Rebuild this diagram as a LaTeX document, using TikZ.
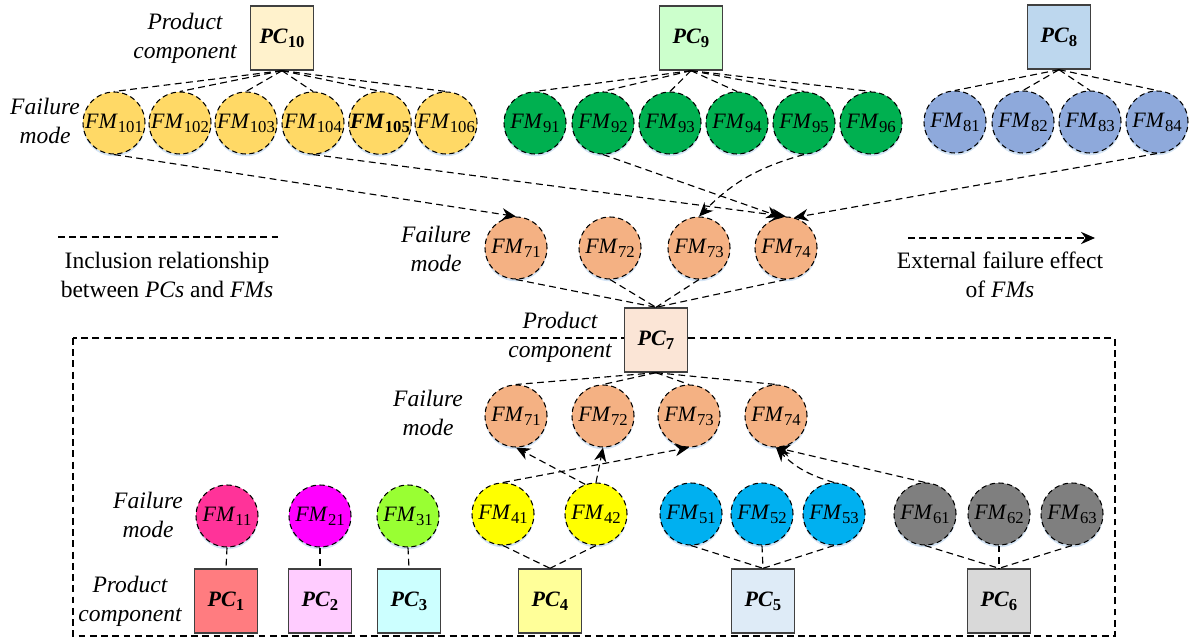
\documentclass[tikz,border=0pt]{standalone}
\usepackage{fontspec}
\setmainfont{Liberation Serif}
\usetikzlibrary{arrows.meta,shadows}

\definecolor{pcten}{HTML}{FFF2CC}
\definecolor{pcnine}{HTML}{CCFFCC}
\definecolor{pceight}{HTML}{BDD7EE}
\definecolor{pcseven}{HTML}{FBE5D6}
\definecolor{pcone}{HTML}{FF7C80}
\definecolor{pctwo}{HTML}{FFCCFF}
\definecolor{pcthree}{HTML}{CCFFFF}
\definecolor{pcfour}{HTML}{FFFF99}
\definecolor{pcfive}{HTML}{DEEBF7}
\definecolor{pcsix}{HTML}{D9D9D9}
\definecolor{fmten}{HTML}{FFD966}
\definecolor{fmnine}{HTML}{00B050}
\definecolor{fmeight}{HTML}{8EA9DB}
\definecolor{fmseven}{HTML}{F4B183}
\definecolor{fmone}{HTML}{FF3399}
\definecolor{fmtwo}{HTML}{FF00FF}
\definecolor{fmthree}{HTML}{99FF33}
\definecolor{fmfour}{HTML}{FFFF00}
\definecolor{fmfive}{HTML}{00B0F0}
\definecolor{fmsix}{HTML}{7F7F7F}
\definecolor{glow}{HTML}{C9DDF2}

\newcommand{\fmtxt}[1]{\textit{FM}\raisebox{-0.4ex}{\fontsize{9.5}{9.5}\selectfont #1}}
\newcommand{\fmbold}[1]{\textbf{\textit{FM}}\raisebox{-0.4ex}{\fontsize{9.5}{9.5}\selectfont\bfseries #1}}
\newcommand{\pctxt}[1]{\textbf{\textit{PC}}\raisebox{-0.4ex}{\fontsize{9.5}{9.5}\selectfont\bfseries #1}}

\begin{document}
\begin{tikzpicture}[x=0.02cm, y=-0.02cm,
                    align=center,
                    every node/.style={font=\fontsize{13.4}{16.5}\selectfont},
                    incl/.style={line width=0.65pt, dash pattern=on 3.9pt off 2.5pt},
                    effect/.style={incl, -{Stealth[length=8pt, width=7pt]}},
                    fmode/.style={circle, minimum size=1.24cm, inner sep=0pt, draw=black,
                                  line width=0.6pt, dash pattern=on 3pt off 2pt,
                                  font=\fontsize{12.5}{14}\selectfont,
                                  drop shadow={shadow xshift=0pt, shadow yshift=-1.3pt, fill=glow, opacity=0.8}},
                    pcbox/.style={rectangle, minimum width=1.26cm, minimum height=1.28cm, inner sep=0pt,
                                  draw=black!75, line width=0.8pt, font=\fontsize{12.5}{14}\selectfont},
                    lbl/.style={font=\fontsize{13.4}{16.5}\selectfont\itshape}]
      \useasboundingbox (0,0) rectangle (1194,639);
      \draw[incl] (73,338) rectangle (1115,636);
      % top product components
      \node[pcbox, fill=pcten] (pc10) at (282,38) {\pctxt{10}};
      \node[pcbox, fill=pcnine] (pc9) at (691,38) {\pctxt{9}};
      \node[pcbox, fill=pceight] (pc8) at (1059,37) {\pctxt{8}};
      \node[lbl] (product_component_top) at (185,38) {Product\\component};
      \node[lbl] (failure_mode_top) at (45,121) {Failure\\mode};
      \node[fmode, fill=fmten] (fm101) at (114,123) {\fmtxt{101}};
      \node[fmode, fill=fmten] (fm102) at (180,123) {\fmtxt{102}};
      \node[fmode, fill=fmten] (fm103) at (246,123) {\fmtxt{103}};
      \node[fmode, fill=fmten] (fm104) at (313,123) {\fmtxt{104}};
      \node[fmode, fill=fmten] (fm105) at (380,123) {\fmbold{105}};
      \node[fmode, fill=fmten] (fm106) at (446,123) {\fmtxt{106}};
      \node[fmode, fill=fmnine] (fm91) at (535,123) {\fmtxt{91}};
      \node[fmode, fill=fmnine] (fm92) at (603,123) {\fmtxt{92}};
      \node[fmode, fill=fmnine] (fm93) at (670,123) {\fmtxt{93}};
      \node[fmode, fill=fmnine] (fm94) at (737,123) {\fmtxt{94}};
      \node[fmode, fill=fmnine] (fm95) at (804,123) {\fmtxt{95}};
      \node[fmode, fill=fmnine] (fm96) at (871,123) {\fmtxt{96}};
      \node[fmode, fill=fmeight] (fm81) at (955,122) {\fmtxt{81}};
      \node[fmode, fill=fmeight] (fm82) at (1023,122) {\fmtxt{82}};
      \node[fmode, fill=fmeight] (fm83) at (1090,122) {\fmtxt{83}};
      \node[fmode, fill=fmeight] (fm84) at (1157,122) {\fmtxt{84}};
      % PC7 and its failure modes
      \node[lbl] (failure_mode_mid) at (436,249) {Failure\\mode};
      \node[fmode, fill=fmseven] (fm71_top) at (516,248) {\fmtxt{71}};
      \node[fmode, fill=fmseven] (fm72_top) at (610,248) {\fmtxt{72}};
      \node[fmode, fill=fmseven] (fm73_top) at (699,248) {\fmtxt{73}};
      \node[fmode, fill=fmseven] (fm74_top) at (786,248) {\fmtxt{74}};
      \node[pcbox, fill=pcseven] (pc7) at (656,340) {\pctxt{7}};
      \node[lbl] (product_component_mid) at (560,337) {Product\\component};
      \node[lbl] (failure_mode_in) at (428,413) {Failure\\mode};
      \node[fmode, fill=fmseven] (fm71_in) at (516,416) {\fmtxt{71}};
      \node[fmode, fill=fmseven] (fm72_in) at (603,416) {\fmtxt{72}};
      \node[fmode, fill=fmseven] (fm73_in) at (689,416) {\fmtxt{73}};
      \node[fmode, fill=fmseven] (fm74_in) at (776,416) {\fmtxt{74}};
      % bottom row
      \node[lbl] (failure_mode_bottom) at (148,515) {Failure\\mode};
      \node[lbl] (product_component_bottom) at (130,601) {Product\\component};
      \node[fmode, fill=fmone] (fm11) at (227,516) {\fmtxt{11}};
      \node[fmode, fill=fmtwo] (fm21) at (320,516) {\fmtxt{21}};
      \node[fmode, fill=fmthree] (fm31) at (408,516) {\fmtxt{31}};
      \node[fmode, fill=fmfour] (fm41) at (503,514) {\fmtxt{41}};
      \node[fmode, fill=fmfour] (fm42) at (596,514) {\fmtxt{42}};
      \node[fmode, fill=fmfive] (fm51) at (691,514) {\fmtxt{51}};
      \node[fmode, fill=fmfive] (fm52) at (762,514) {\fmtxt{52}};
      \node[fmode, fill=fmfive] (fm53) at (834,514) {\fmtxt{53}};
      \node[fmode, fill=fmsix] (fm61) at (925,514) {\fmtxt{61}};
      \node[fmode, fill=fmsix] (fm62) at (999,514) {\fmtxt{62}};
      \node[fmode, fill=fmsix] (fm63) at (1072,514) {\fmtxt{63}};
      \node[pcbox, fill=pcone] (pc1) at (226,601) {\pctxt{1}};
      \node[pcbox, fill=pctwo] (pc2) at (320,601) {\pctxt{2}};
      \node[pcbox, fill=pcthree] (pc3) at (409,601) {\pctxt{3}};
      \node[pcbox, fill=pcfour] (pc4) at (550,601) {\pctxt{4}};
      \node[pcbox, fill=pcfive] (pc5) at (763,601) {\pctxt{5}};
      \node[pcbox, fill=pcsix] (pc6) at (999,601) {\pctxt{6}};
      % legend
      \coordinate (incl_start) at (58,237);
      \coordinate (incl_end) at (278,237);
      \coordinate (effect_start) at (908,238);
      \coordinate (effect_end) at (1095,238);
      \draw[incl] (incl_start) -- (incl_end);
      \node (incl_text) at (167,275) {Inclusion relationship\\between \textit{PCs} and \textit{FMs}};
      \draw[effect] (effect_start) -- (effect_end);
      \node (effect_text) at (1000,275) {External failure effect\\of \textit{FMs}};
      % inclusion relationships
      \draw[incl] (pc10.south) -- (fm101.north);
      \draw[incl] (pc10.south) -- (fm102.north);
      \draw[incl] (pc10.south) -- (fm103.north);
      \draw[incl] (pc10.south) -- (fm104.north);
      \draw[incl] (pc10.south) -- (fm105.north);
      \draw[incl] (pc10.south) -- (fm106.north);
      \draw[incl] (pc9.south) -- (fm91.north);
      \draw[incl] (pc9.south) -- (fm92.north);
      \draw[incl] (pc9.south) -- (fm93.north);
      \draw[incl] (pc9.south) -- (fm94.north);
      \draw[incl] (pc9.south) -- (fm95.north);
      \draw[incl] (pc9.south) -- (fm96.north);
      \draw[incl] (pc8.south) -- (fm81.north);
      \draw[incl] (pc8.south) -- (fm82.north);
      \draw[incl] (pc8.south) -- (fm83.north);
      \draw[incl] (pc8.south) -- (fm84.north);
      \draw[incl] (fm71_top.south) -- (pc7.north);
      \draw[incl] (fm72_top.south) -- (pc7.north);
      \draw[incl] (fm73_top.south) -- (pc7.north);
      \draw[incl] (fm74_top.south) -- (pc7.north);
      \draw[incl] (pc7.south) -- (fm71_in.north);
      \draw[incl] (pc7.south) -- (fm72_in.north);
      \draw[incl] (pc7.south) -- (fm73_in.north);
      \draw[incl] (pc7.south) -- (fm74_in.north);
      \draw[incl] (fm11.south) -- (pc1.north);
      \draw[incl] (fm21.south) -- (pc2.north);
      \draw[incl] (fm31.south) -- (pc3.north);
      \draw[incl] (fm41.south) -- (pc4.north);
      \draw[incl] (fm42.south) -- (pc4.north);
      \draw[incl] (fm51.south) -- (pc5.north);
      \draw[incl] (fm52.south) -- (pc5.north);
      \draw[incl] (fm53.south) -- (pc5.north);
      \draw[incl] (fm61.south) -- (pc6.north);
      \draw[incl] (fm62.south) -- (pc6.north);
      \draw[incl] (fm63.south) -- (pc6.north);
      % external failure effects
      \draw[effect] (fm101.south) -- (fm71_top.north);
      \draw[effect] (fm104.south) -- (fm74_top.north);
      \draw[effect] (fm92.south) -- (fm74_top.100);
      \draw[effect] (fm95.south) to[bend right=15] (fm73_top.north);
      \draw[effect] (fm84.south) -- (fm74_top.75);
      \draw[effect] (fm41.north) -- (fm73_in.south);
      \draw[effect] (fm42.110) -- (fm71_in.south);
      \draw[effect] (fm42.north) -- (fm72_in.south);
      \draw[effect] (fm53.north) to[bend left=15] (fm74_in.south);
      \draw[effect] (fm61.north) -- (fm74_in.south);
    \end{tikzpicture}
\end{document}
